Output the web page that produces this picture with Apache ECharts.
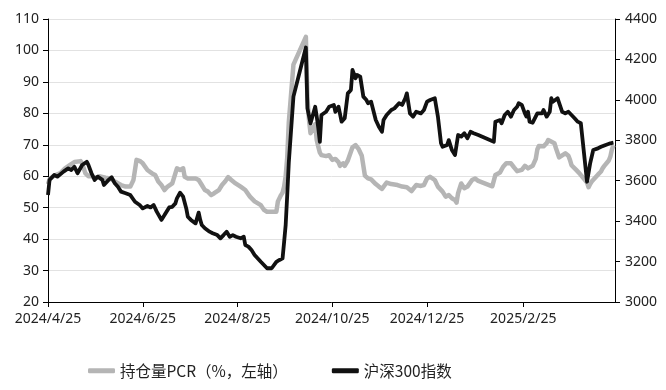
<!DOCTYPE html>
<html>
<head>
<meta charset="utf-8">
<script src="https://cdn.jsdelivr.net/npm/echarts@6/dist/echarts.min.js"></script>
<style>
html,body{margin:0;padding:0;background:#fff;}
#chart{width:666px;height:390px;}
</style>
</head>
<body>
<div id="chart"></div>
<script>
// ---- data ----
const seriesNames = ['持仓量PCR（%，左轴）', '沪深300指数'];
const xTickLabels = ['2024/4/25', '2024/6/25', '2024/8/25', '2024/10/25', '2024/12/25', '2025/2/25'];
const xRange = ['2024/4/25', '2025/4/25'];

const pcrDates = ['2024-04-25','2024-04-26','2024-04-29','2024-05-03','2024-05-06','2024-05-09','2024-05-12','2024-05-16','2024-05-17','2024-05-19','2024-05-21','2024-05-23','2024-05-26','2024-05-28','2024-06-01','2024-06-04','2024-06-07','2024-06-11','2024-06-14','2024-06-17','2024-06-19','2024-06-21','2024-06-23','2024-06-25','2024-06-28','2024-07-01','2024-07-03','2024-07-05','2024-07-07','2024-07-09','2024-07-11','2024-07-14','2024-07-16','2024-07-17','2024-07-19','2024-07-21','2024-07-22','2024-07-24','2024-07-26','2024-07-29','2024-07-31','2024-08-02','2024-08-04','2024-08-06','2024-08-08','2024-08-10','2024-08-13','2024-08-15','2024-08-17','2024-08-19','2024-08-21','2024-08-23','2024-08-27','2024-08-30','2024-09-02','2024-09-05','2024-09-09','2024-09-11','2024-09-13','2024-09-16','2024-09-19','2024-09-20','2024-09-22','2024-09-23','2024-09-24','2024-09-25','2024-09-26','2024-09-27','2024-09-30','2024-10-08','2024-10-09','2024-10-10','2024-10-11','2024-10-14','2024-10-15','2024-10-16','2024-10-17','2024-10-18','2024-10-21','2024-10-23','2024-10-25','2024-10-27','2024-10-29','2024-10-30','2024-11-01','2024-11-02','2024-11-04','2024-11-07','2024-11-09','2024-11-11','2024-11-13','2024-11-15','2024-11-17','2024-11-19','2024-11-22','2024-11-24','2024-11-26','2024-11-29','2024-12-02','2024-12-06','2024-12-09','2024-12-12','2024-12-15','2024-12-18','2024-12-21','2024-12-23','2024-12-25','2024-12-27','2024-12-30','2025-01-01','2025-01-04','2025-01-06','2025-01-08','2025-01-10','2025-01-12','2025-01-13','2025-01-14','2025-01-16','2025-01-18','2025-01-20','2025-01-23','2025-01-25','2025-01-27','2025-02-05','2025-02-07','2025-02-10','2025-02-12','2025-02-14','2025-02-17','2025-02-19','2025-02-21','2025-02-24','2025-02-26','2025-02-28','2025-03-03','2025-03-05','2025-03-06','2025-03-07','2025-03-10','2025-03-11','2025-03-12','2025-03-13','2025-03-14','2025-03-17','2025-03-18','2025-03-19','2025-03-20','2025-03-21','2025-03-24','2025-03-25','2025-03-26','2025-03-27','2025-03-28','2025-03-31','2025-04-01','2025-04-02','2025-04-03','2025-04-07','2025-04-08','2025-04-09','2025-04-10','2025-04-11','2025-04-14','2025-04-15','2025-04-16','2025-04-17','2025-04-18','2025-04-21','2025-04-22','2025-04-23','2025-04-24'];
const pcrValues = [57.5,59,60.2,61,62.5,63.5,64.5,64.8,64,61,60,60,59.5,60,59.5,59.3,58.3,57.2,56.7,56.7,58.8,65.2,64.9,64.1,62,60.9,60.4,58.3,57.2,55.6,56.7,57.7,60.9,62.5,62,62.5,59.8,59.3,59.3,59.3,58.8,57.2,55.6,55.1,54.0,54.6,55.6,57.2,58.3,59.7,58.8,58.0,56.7,55.6,53.5,52.0,50.8,49.3,48.7,48.7,48.7,52,54,54.8,56.7,60,66,77,95.5,104.3,85,78,73.7,76.5,71.5,69.4,67.5,66.7,66.4,66.7,65.2,65.5,64.5,63.3,64.1,63.3,65,69.2,69.9,68.6,66.5,60.2,59.3,59.0,57.5,56.7,56,58,57.5,57.2,56.7,56.5,55.3,57.2,56.9,57.2,59.3,59.8,58.8,56.7,55.1,53.5,54,53,52.4,51.6,54.6,57.7,56.2,56.7,58.8,59.3,58.5,56.8,60.4,61.2,63,64.1,64.1,62.8,61.6,62,63.3,62.5,63.3,65.5,68.5,69.6,69.5,68.9,70.5,71.5,72.1,70.5,68.9,67.5,66,65.7,67.3,67.8,66.5,65.2,63.5,62,61.5,61,60.9,58,56.5,57.5,58.3,58.8,60.5,60.9,61.5,62.5,63.2,65,66.2,68.5,69.8];

const csiDates = ['2024-04-25','2024-04-26','2024-04-29','2024-05-01','2024-05-05','2024-05-08','2024-05-10','2024-05-12','2024-05-14','2024-05-17','2024-05-20','2024-05-21','2024-05-23','2024-05-24','2024-05-25','2024-05-27','2024-05-30','2024-05-31','2024-06-03','2024-06-05','2024-06-07','2024-06-09','2024-06-11','2024-06-14','2024-06-17','2024-06-20','2024-06-23','2024-06-25','2024-06-28','2024-06-30','2024-07-02','2024-07-04','2024-07-07','2024-07-09','2024-07-12','2024-07-14','2024-07-16','2024-07-17','2024-07-19','2024-07-21','2024-07-23','2024-07-24','2024-07-26','2024-07-29','2024-07-31','2024-08-01','2024-08-02','2024-08-04','2024-08-07','2024-08-09','2024-08-12','2024-08-14','2024-08-16','2024-08-18','2024-08-20','2024-08-22','2024-08-24','2024-08-27','2024-08-29','2024-08-30','2024-09-01','2024-09-03','2024-09-05','2024-09-09','2024-09-11','2024-09-13','2024-09-16','2024-09-19','2024-09-21','2024-09-23','2024-09-24','2024-09-25','2024-09-26','2024-09-27','2024-09-30','2024-10-08','2024-10-09','2024-10-10','2024-10-11','2024-10-14','2024-10-15','2024-10-16','2024-10-17','2024-10-18','2024-10-21','2024-10-23','2024-10-24','2024-10-26','2024-10-27','2024-10-29','2024-10-31','2024-11-02','2024-11-04','2024-11-06','2024-11-07','2024-11-09','2024-11-10','2024-11-12','2024-11-14','2024-11-16','2024-11-17','2024-11-19','2024-11-22','2024-11-24','2024-11-26','2024-11-27','2024-11-29','2024-12-02','2024-12-04','2024-12-07','2024-12-09','2024-12-11','2024-12-12','2024-12-14','2024-12-16','2024-12-18','2024-12-21','2024-12-23','2024-12-25','2024-12-27','2024-12-30','2025-01-01','2025-01-03','2025-01-04','2025-01-07','2025-01-08','2025-01-10','2025-01-12','2025-01-13','2025-01-14','2025-01-16','2025-01-18','2025-01-20','2025-01-22','2025-01-24','2025-01-27','2025-02-06','2025-02-07','2025-02-10','2025-02-11','2025-02-13','2025-02-15','2025-02-17','2025-02-19','2025-02-21','2025-02-22','2025-02-24','2025-02-26','2025-02-27','2025-02-28','2025-03-01','2025-03-03','2025-03-06','2025-03-07','2025-03-09','2025-03-10','2025-03-12','2025-03-13','2025-03-14','2025-03-15','2025-03-16','2025-03-19','2025-03-20','2025-03-22','2025-03-24','2025-03-26','2025-03-28','2025-03-30','2025-04-01','2025-04-03','2025-04-07','2025-04-09','2025-04-11','2025-04-14','2025-04-16','2025-04-19','2025-04-22','2025-04-24'];
const csiValues = [3529,3604,3628,3620,3645,3661,3653,3669,3637,3678,3694,3678,3637,3628,3604,3620,3604,3579,3604,3617,3587,3570,3546,3538,3529,3496,3480,3463,3475,3468,3480,3447,3406,3430,3468,3471,3488,3513,3541,3521,3463,3422,3406,3389,3442,3406,3381,3365,3348,3340,3331,3315,3331,3348,3323,3331,3323,3315,3323,3282,3274,3257,3233,3199,3183,3167,3167,3199,3208,3216,3297,3381,3529,3688,4016,4259,3958,3950,3884,3966,3917,3861,3792,3925,3941,3966,3966,3975,3941,3966,3892,3909,4032,4049,4148,4107,4123,4115,4016,3999,3983,3991,3900,3867,3842,3900,3925,3950,3958,3983,3975,4008,4032,3933,3917,3941,3933,3950,3991,3999,4008,3917,3785,3768,3777,3801,3752,3727,3727,3826,3818,3835,3810,3842,3835,3826,3793,3892,3900,3884,3925,3941,3917,3950,3966,3983,3975,3933,3917,3941,3892,3887,3933,3941,3933,3950,3917,3909,3941,4008,3991,4008,4008,3941,3933,3941,3925,3909,3892,3884,3595,3686,3752,3760,3768,3777,3785,3788];

// ---- chart ----
function toTs(s) { const p = s.split(/[\/-]/).map(Number); return new Date(p[0], p[1] - 1, p[2]).getTime(); }
const tickTs = xTickLabels.map(toTs);
const font = '"Noto Sans", "Noto Sans CJK SC", sans-serif';
const axisText = { color: '#222', fontSize: 14, fontFamily: font };

const chart = echarts.init(document.getElementById('chart'), null, { renderer: 'canvas' });
chart.setOption({
  animation: false,
  backgroundColor: '#fff',
  grid: { left: 48, right: 51, top: 19, bottom: 88, containLabel: false },
  legend: {
    data: seriesNames,
    left: 83, top: 358,
    icon: 'roundRect', itemWidth: 27, itemHeight: 5, itemGap: 44,
    textStyle: { color: '#222', fontSize: 15.5, fontFamily: '"Noto Sans CJK SC", sans-serif' }
  },
  xAxis: {
    type: 'value',
    min: toTs(xRange[0]), max: toTs(xRange[1]),
    axisLine: { show: true, lineStyle: { color: '#000', width: 1 } },
    axisTick: { show: true, customValues: tickTs, length: 5, lineStyle: { color: '#000' } },
    axisLabel: {
      customValues: tickTs, margin: 10, ...axisText,
      formatter: function (v) { const d = new Date(v); return d.getFullYear() + '/' + (d.getMonth() + 1) + '/' + d.getDate(); }
    },
    splitLine: { show: false }
  },
  yAxis: [
    {
      type: 'value', min: 20, max: 110, interval: 10, position: 'left',
      axisLine: { show: true, lineStyle: { color: '#000', width: 1 } },
      axisTick: { show: true, length: 5, lineStyle: { color: '#000' } },
      axisLabel: { margin: 9, ...axisText, formatter: v => String(v) },
      splitLine: { show: true, lineStyle: { color: '#e2e2e2', width: 1 } }
    },
    {
      type: 'value', min: 3000, max: 4400, interval: 200, position: 'right',
      axisLine: { show: true, lineStyle: { color: '#000', width: 1 } },
      axisTick: { show: true, length: 5, lineStyle: { color: '#000' } },
      axisLabel: { margin: 10, ...axisText, formatter: v => String(v) },
      splitLine: { show: false }
    }
  ],
  series: [
    {
      name: seriesNames[0], type: 'line', yAxisIndex: 0,
      data: pcrDates.map((d, i) => [toTs(d), pcrValues[i]]),
      showSymbol: false, symbol: 'none',
      itemStyle: { color: '#b5b5b5' },
      lineStyle: { color: '#b5b5b5', width: 4.5, join: 'round' }
    },
    {
      name: seriesNames[1], type: 'line', yAxisIndex: 1,
      data: csiDates.map((d, i) => [toTs(d), csiValues[i]]),
      showSymbol: false, symbol: 'none',
      itemStyle: { color: '#111' },
      lineStyle: { color: '#111', width: 3.8, join: 'round' }
    }
  ]
});
</script>
</body>
</html>
